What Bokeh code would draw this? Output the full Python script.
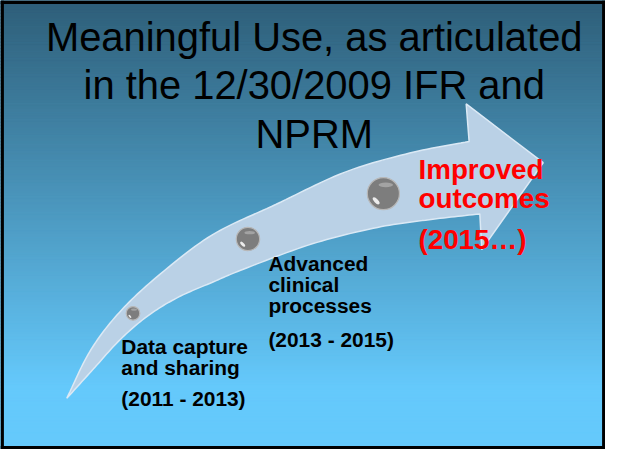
import numpy as np
from bokeh.plotting import figure
from bokeh.models import Range1d, ColumnDataSource
from bokeh.core.properties import value
from bokeh.embed import file_html
from bokeh.resources import INLINE

# ---------------- content ----------------
title_lines = ["Meaningful Use, as articulated", "in the 12/30/2009 IFR and", "NPRM"]
stage_names = [["Data capture", "and sharing"],
               ["Advanced", "clinical", "processes"],
               ["Improved", "outcomes"]]
stage_years = ["(2011 - 2013)", "(2013 - 2015)", "(2015\u2026)"]

# ---------------- layout (reference pixel space, y downwards) ----------------
W_REF, H_REF = 621, 465
W, H = 605, 449
S = W / W_REF

title_x = 322
title_baselines = [38, 88, 138]
stage_x = [124, 275, 429]
stage_name_baselines = [[358, 380], [272, 294, 316], [175, 205]]
stage_year_baselines = [412, 351, 247]
stage_colors = ["black", "black", "#ff0000"]
stage_sizes = [21.5, 21.5, 28.5]
ball_x = [136, 254, 393]
ball_y = [324, 247, 200]
ball_r = [7, 12, 16.5]

arrow_upper = [(68, 412), (92, 363), (122, 323), (162, 285), (217, 243),
               (283, 211), (353, 178), (420, 158), (481, 146)]
arrow_head = [(478, 107), (557, 168), (494, 258)]
arrow_lower = [(68, 412), (95, 382), (123, 351), (152, 326), (183, 307),
               (217, 292), (250, 278), (320, 252), (387, 235), (440, 227), (492, 221)]


def smooth(pts, k=14):
    pts = np.asarray(pts, float)
    P = np.vstack([2 * pts[0] - pts[1], pts, 2 * pts[-1] - pts[-2]])
    out = []
    for i in range(1, len(P) - 2):
        p0, p1, p2, p3 = P[i - 1], P[i], P[i + 1], P[i + 2]
        for t in np.linspace(0, 1, k, endpoint=False):
            t2, t3 = t * t, t * t * t
            out.append(0.5 * ((2 * p1) + (-p0 + p2) * t
                              + (2 * p0 - 5 * p1 + 4 * p2 - p3) * t2
                              + (-p0 + 3 * p1 - 3 * p2 + p3) * t3))
    out.append(P[-2])
    return np.array(out)


p = figure(width=W, height=H, x_range=Range1d(0, W_REF), y_range=Range1d(H_REF, 0),
           output_backend="svg", toolbar_location=None, min_border=0)
p.axis.visible = False
p.grid.visible = False
p.outline_line_color = None
p.background_fill_color = "#64c8fa"
p.border_fill_color = "white"

# background gradient
n = 140
ys = np.linspace(0, H_REF, n + 1)
top_c = np.array([0x2e, 0x5e, 0x78], float)
bot_c = np.array([0x65, 0xc9, 0xfb], float)
mid = (ys[:-1] + ys[1:]) / 2
tt = np.clip(mid / 400.0, 0, 1)
cols = ['#%02x%02x%02x' % tuple((top_c + (bot_c - top_c) * ti).round().astype(int)) for ti in tt]
p.quad(left=0, right=W_REF, top=ys[:-1], bottom=ys[1:], fill_color=cols, line_color=cols)

# arrow
up = smooth(arrow_upper)
lo = smooth(arrow_lower)[::-1]
poly = np.vstack([up, np.array(arrow_head, float), lo])
p.patch(poly[:, 0], poly[:, 1], fill_color="#bad1e6", fill_alpha=1.0,
        line_color="#dbe9f5", line_width=1.5)

# balls
bsrc = ColumnDataSource(dict(x=ball_x, y=ball_y, r=ball_r))
p.circle(x="x", y="y", radius="r", source=bsrc, fill_color="#7d7d7d",
         line_color="#b8b8b8", line_width=1.2)
hx = [x - 0.45 * r for x, r in zip(ball_x, ball_r)]
hy = [y + 0.45 * r for y, r in zip(ball_y, ball_r)]
hw = [0.55 * r for r in ball_r]
hh = [0.25 * r for r in ball_r]
p.ellipse(x=hx, y=hy, width=hw, height=hh, angle=-0.8, fill_color="white",
          fill_alpha=0.85, line_color=None)
tx = [x + 0.15 * r for x, r in zip(ball_x, ball_r)]
ty = [y - 0.55 * r for y, r in zip(ball_y, ball_r)]
p.ellipse(x=tx, y=ty, width=[0.9 * r for r in ball_r], height=[0.3 * r for r in ball_r],
          fill_color="#bdbdbd", fill_alpha=0.6, line_color=None)

# title
p.text(x=[title_x] * len(title_lines), y=title_baselines, text=title_lines,
       text_font=value("Liberation Sans"), text_font_size="%.1fpx" % (41 * S),
       text_color="black", text_align="center", text_baseline="alphabetic")

# stage labels
for i in range(3):
    lines = stage_names[i] + [stage_years[i]]
    bl = stage_name_baselines[i] + [stage_year_baselines[i]]
    p.text(x=[stage_x[i]] * len(lines), y=bl, text=lines,
           text_font=value("Liberation Sans"), text_font_style="bold",
           text_font_size="%.1fpx" % (stage_sizes[i] * S),
           text_color=stage_colors[i], text_align="left", text_baseline="alphabetic")

# black frame
b = 3.5
p.quad(left=[0, W_REF - b, 0, 0], right=[b, W_REF, W_REF, W_REF],
       top=[0, 0, 0, H_REF - b], bottom=[H_REF, H_REF, b, H_REF],
       fill_color="black", line_color=None)

open("out.html", "w").write(file_html(p, INLINE))
